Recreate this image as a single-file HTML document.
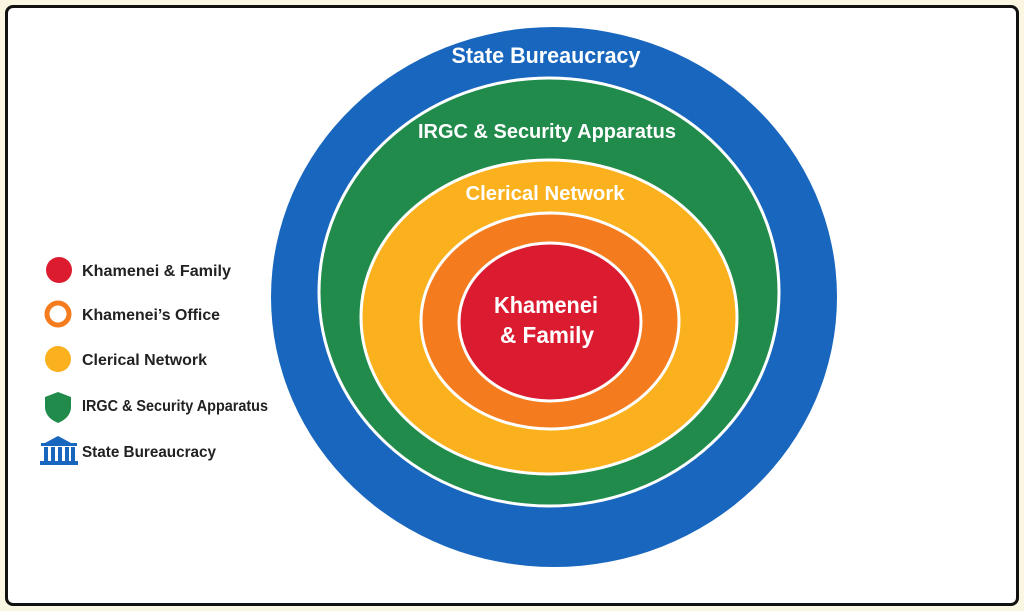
<!DOCTYPE html>
<html><head><meta charset="utf-8"><style>
html,body{margin:0;padding:0;background:#fbf6e2;}
body{width:1024px;height:611px;position:relative;overflow:hidden;}
.frame{position:absolute;left:5px;top:5px;width:1008px;height:595px;border:3px solid #111;border-radius:8px;background:#fff;}
svg{position:absolute;left:0;top:0;}
</style></head><body>
<div class="frame"></div>
<svg width="1024" height="611" viewBox="0 0 1024 611" font-family="'Liberation Sans', sans-serif" font-weight="bold">
<ellipse cx="554" cy="297" rx="283" ry="270" fill="#1866bd"/>
<ellipse cx="549" cy="292" rx="230" ry="214" fill="#208b4b" stroke="#fff" stroke-width="3"/>
<ellipse cx="549" cy="317" rx="188" ry="157" fill="#fbb11d" stroke="#fff" stroke-width="3"/>
<ellipse cx="550" cy="321" rx="129" ry="108" fill="#f47c1f" stroke="#fff" stroke-width="3"/>
<ellipse cx="550" cy="322" rx="91" ry="79" fill="#db1b30" stroke="#fff" stroke-width="3"/>
<g fill="#fff" text-anchor="middle">
<text x="546" y="63" font-size="22" textLength="189" lengthAdjust="spacingAndGlyphs">State Bureaucracy</text>
<text x="547" y="138" font-size="20" textLength="258" lengthAdjust="spacingAndGlyphs">IRGC &amp; Security Apparatus</text>
<text x="545" y="200" font-size="20" textLength="159" lengthAdjust="spacingAndGlyphs">Clerical Network</text>
<text x="546" y="313" font-size="23" textLength="104" lengthAdjust="spacingAndGlyphs">Khamenei</text>
<text x="547" y="343" font-size="23" textLength="94" lengthAdjust="spacingAndGlyphs">&amp; Family</text>
</g>
<circle cx="59" cy="270" r="13" fill="#dc1b2e"/>
<circle cx="58" cy="314" r="11" fill="#fff" stroke="#f47c1f" stroke-width="5"/>
<circle cx="58" cy="359" r="13" fill="#fbb11d"/>
<path d="M58 392 L71 397 L71 408 Q70 418 58 423 Q46 418 45 408 L45 397 Z" fill="#208b4b"/>
<g fill="#1866bd">
<path d="M58 436 L71 443 L45 443 Z"/>
<rect x="41" y="443" width="36" height="3"/>
<rect x="44" y="447" width="4" height="14"/><rect x="51" y="447" width="4" height="14"/><rect x="58" y="447" width="4" height="14"/><rect x="65" y="447" width="4" height="14"/><rect x="71" y="447" width="4" height="14"/>
<rect x="40" y="461" width="38" height="4"/>
</g>
<g fill="#222" font-size="16">
<text x="82" y="276" textLength="149" lengthAdjust="spacingAndGlyphs">Khamenei &amp; Family</text>
<text x="82" y="320" textLength="138" lengthAdjust="spacingAndGlyphs">Khamenei’s Office</text>
<text x="82" y="365" textLength="125" lengthAdjust="spacingAndGlyphs">Clerical Network</text>
<text x="82" y="411" textLength="186" lengthAdjust="spacingAndGlyphs">IRGC &amp; Security Apparatus</text>
<text x="82" y="457" textLength="134" lengthAdjust="spacingAndGlyphs">State Bureaucracy</text>
</g>
</svg>
</body></html>
